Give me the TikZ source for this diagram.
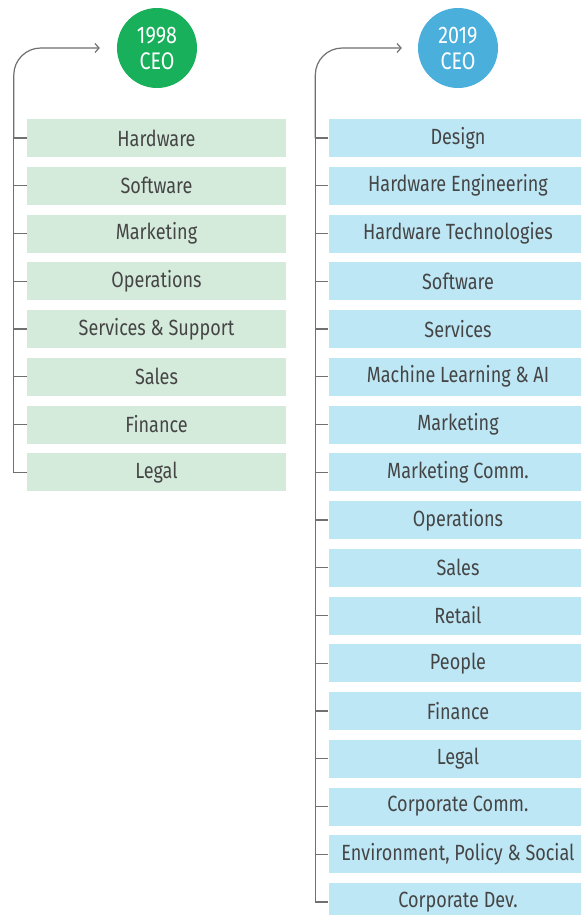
\documentclass[tikz,border=0pt]{standalone}
\usepackage{fontspec}
\setmainfont{Fira Sans}[FakeStretch=0.82]
\usetikzlibrary{arrows.meta,calc}
\definecolor{ceogreen}{HTML}{19B05B}
\definecolor{ceoblue}{HTML}{4AAFDB}
\definecolor{boxgreen}{HTML}{D4EBDC}
\definecolor{boxblue}{HTML}{BEE7F5}
\definecolor{txtgray}{HTML}{454545}
\definecolor{linegray}{HTML}{707070}
\tikzset{
  unitbox/.style={minimum width=259pt, minimum height=38pt, inner sep=0pt,
    text=txtgray, font=\fontsize{22}{25}\selectfont},
  oldbox/.style={unitbox, fill=boxgreen},
  newbox/.style={unitbox, fill=boxblue},
  ceo/.style={circle, minimum size=80pt, inner sep=0pt, text=white, align=center,
    font=\fontsize{24}{26}\selectfont},
  conn/.style={draw=linegray, line width=1.2pt},
  tip/.style={-{Straight Barb[length=4pt,width=9pt]}}
}
\begin{document}
\begin{tikzpicture}[x=1pt,y=-1pt]
\clip (0,0) rectangle (581,915);
\fill[white] (0,0) rectangle (581,915);

% 1998 organisation
\node[ceo, fill=ceogreen] (c1) at (157,48) {1998\\CEO};
\foreach \t [count=\i] in {Hardware, Software, Marketing, Operations,
    Services \& Support, Sales, Finance, Legal}
  \node[oldbox] (L\i) at (156.5,{138+47.75*(\i-1)}) {\t};
\coordinate (a1) at ($(c1.west)+(-17,0)$);
\coordinate (tA) at ($(L1.west)+(-13,0)$);
\draw[conn] (L8.west) -| (tA);
\draw[conn,tip,rounded corners=27pt] (tA) |- (a1);
\foreach \i in {1,...,7}
  \draw[conn] (L\i.west) -- (L\i.west -| tA);

% 2019 organisation
\node[ceo, fill=ceoblue] (c2) at (458,48) {2019\\CEO};
\foreach \t [count=\i] in {Design, Hardware Engineering, Hardware Technologies,
    Software, Services, Machine Learning \& AI, Marketing, Marketing Comm.,
    Operations, Sales, Retail, People, Finance, Legal, Corporate Comm.,
    {Environment, Policy \& Social}, Corporate Dev.}
  \node[newbox] (R\i) at (458,{138+47.75*(\i-1)}) {\t};
\coordinate (a2) at ($(c2.west)+(-16,0)$);
\coordinate (tB) at ($(R1.west)+(-13,0)$);
\draw[conn] (R17.west) -| (tB);
\draw[conn,tip,rounded corners=27pt] (tB) |- (a2);
\foreach \i in {1,...,16}
  \draw[conn] (R\i.west) -- (R\i.west -| tB);
\end{tikzpicture}
\end{document}
